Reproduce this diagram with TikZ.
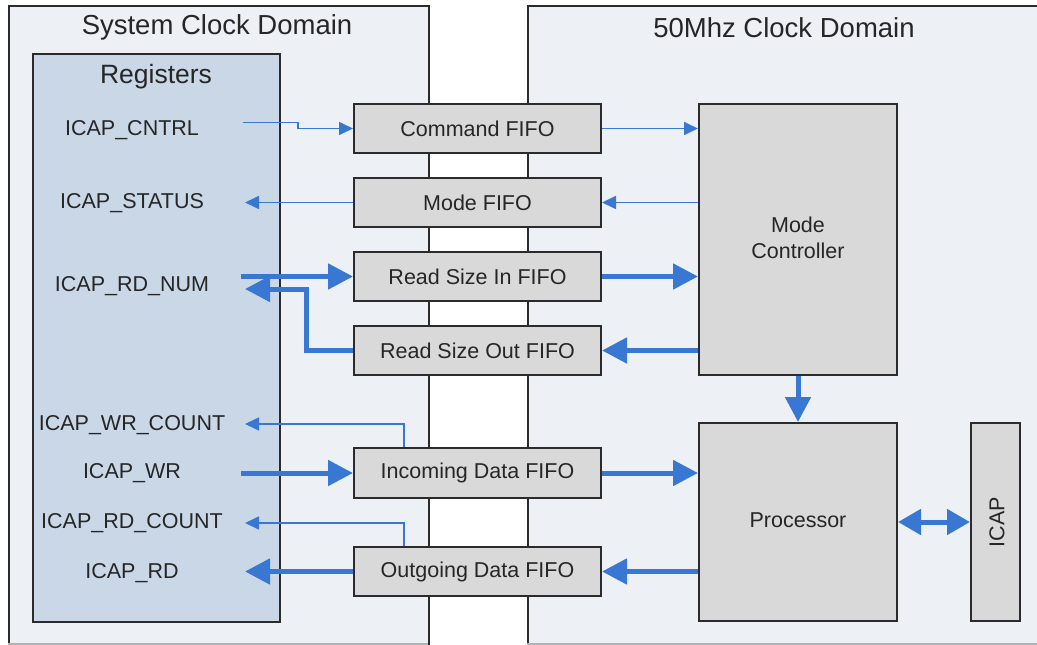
\documentclass[tikz,border=0pt]{standalone}
\usepackage{fontspec}
\setmainfont{Liberation Sans}
\usetikzlibrary{arrows.meta}
\definecolor{domfill}{HTML}{EDF1F6}
\definecolor{regfill}{HTML}{C9D7E7}
\definecolor{boxfill}{HTML}{D9D9D9}
\definecolor{edge}{HTML}{2B2B2B}
\definecolor{sig}{HTML}{3878D2}
\definecolor{ink}{HTML}{262626}
\tikzset{
  domain/.style={draw=edge, line width=2pt, fill=domfill, anchor=north west,
    minimum width=#1, inner sep=0pt},
  domtitle/.style={text=ink, font=\fontsize{27.5}{32}\selectfont},
  block/.style={draw=edge, line width=2pt, fill=boxfill, inner sep=0pt,
    text=ink, font=\fontsize{21.5}{26}\selectfont, align=center},
  reglabel/.style={text=ink, font=\fontsize{21.5}{26}\selectfont, anchor=base, inner sep=0pt},
  thinsig/.style={draw=sig, line width=1.7pt, -{Triangle[length=14pt,width=13pt]}},
  thicksig/.style={draw=sig, line width=5pt, -{Triangle[length=25pt,width=25pt]}},
  bothsig/.style={draw=sig, line width=5pt, {Triangle[length=23pt,width=25pt]}-{Triangle[length=23pt,width=25pt]}},
}
\begin{document}
\begin{tikzpicture}[x=1pt, y=-1pt]
\useasboundingbox (0,0) rectangle (1037,645);
\fill[white] (0,0) rectangle (1037,645);

% clock domains
\node[domain=420pt, minimum height=660pt] (sysdom) at (8,5) {};
\node[domain=530pt, minimum height=660pt] (fastdom) at (527,5) {};
\draw[gray!60, line width=1.5pt] (8,643.8) -- (428,643.8) (527,643.8) -- (1037,643.8);
\node[domtitle] (systitle) at (217,27.5) {System Clock Domain};
\node[domtitle] (fasttitle) at (784,27.5) {50Mhz Clock Domain};

% register file
\node[draw=edge, line width=2pt, fill=regfill, minimum width=247pt, minimum height=568pt,
  inner sep=0pt] (regs) at (156.5,338) {};
\node[font=\fontsize{26.5}{30}\selectfont, text=ink] (regtitle) at (156,77) {Registers};
\node[reglabel] (rCNTRL) at (132,135) {ICAP\_CNTRL};
\node[reglabel] (rSTATUS) at (132,208) {ICAP\_STATUS};
\node[reglabel] (rRDNUM) at (132,291) {ICAP\_RD\_NUM};
\node[reglabel] (rWRC) at (132,430) {ICAP\_WR\_COUNT};
\node[reglabel] (rWR) at (132,478) {ICAP\_WR};
\node[reglabel] (rRDC) at (132,528) {ICAP\_RD\_COUNT};
\node[reglabel] (rRD) at (132,578) {ICAP\_RD};

% register ports
\coordinate (pCNTRL) at (243,122.5);
\coordinate (pSTATUS) at (245,202.5);
\coordinate (pRDNUMo) at (241,276.5);
\coordinate (pRDNUMi) at (245,289);
\coordinate (pWRC) at (245,424);
\coordinate (pWR) at (241,473);
\coordinate (pRDC) at (245,523);
\coordinate (pRD) at (245,571.5);

% FIFOs crossing the domains
\node[block, minimum width=247pt, minimum height=49pt] (cmd) at (477.5,128.5) {Command FIFO};
\node[block, minimum width=247pt, minimum height=49pt] (mode) at (477.5,202.5) {Mode FIFO};
\node[block, minimum width=247pt, minimum height=49pt] (rsin) at (477.5,276.5) {Read Size In FIFO};
\node[block, minimum width=247pt, minimum height=49pt] (rsout) at (477.5,350.5) {Read Size Out FIFO};
\node[block, minimum width=247pt, minimum height=50pt] (din) at (477.5,473) {Incoming Data FIFO};
\node[block, minimum width=247pt, minimum height=49pt] (dout) at (477.5,571.5) {Outgoing Data FIFO};

% 50 MHz side
\node[block, minimum width=198pt, minimum height=271pt] (mc) at (798,239.5) {};
\node[text=ink, font=\fontsize{21.5}{26}\selectfont, align=center] (mctext) at (798,238) {Mode\\Controller};
\node[block, minimum width=198pt, minimum height=198pt] (proc) at (798,522) {};
\node[text=ink, font=\fontsize{21.5}{26}\selectfont] (proctext) at (798,520) {Processor};
\node[block, minimum width=49pt, minimum height=198pt] (icap) at (995.5,522) {};
\node[text=ink, font=\fontsize{21.5}{26}\selectfont, rotate=90] (icaptext) at (997,522) {ICAP};

% control paths
\coordinate (jog) at (298,128.5);
\draw[thinsig] (pCNTRL) -| (jog) -- (cmd.west);
\draw[thinsig] (cmd.east) -- (mc.west |- cmd.east);
\draw[thinsig] (mc.west |- mode.east) -- (mode.east);
\draw[thinsig] (mode.west) -- (pSTATUS);
\draw[thicksig] (pRDNUMo) -- (rsin.west);
\draw[thicksig] (rsin.east) -- (mc.west |- rsin.east);
\draw[thicksig] (mc.west |- rsout.east) -- (rsout.east);
\coordinate (rsbend) at (306,289);
\draw[thicksig] (rsout.west) -| (rsbend) -- (pRDNUMi);

% data paths
\draw[thinsig] ([xshift=-73.5pt]din.north) |- (pWRC);
\draw[thicksig] (pWR) -- (din.west);
\draw[thicksig] (din.east) -- (proc.west |- din.east);
\draw[thinsig] ([xshift=-73.5pt]dout.north) |- (pRDC);
\draw[thicksig] (dout.west) -- (pRD);
\draw[thicksig] (proc.west |- dout.east) -- (dout.east);
\draw[thicksig] (mc.south) -- (proc.north);
\draw[bothsig] (proc.east) -- (icap.west);
\end{tikzpicture}
\end{document}
